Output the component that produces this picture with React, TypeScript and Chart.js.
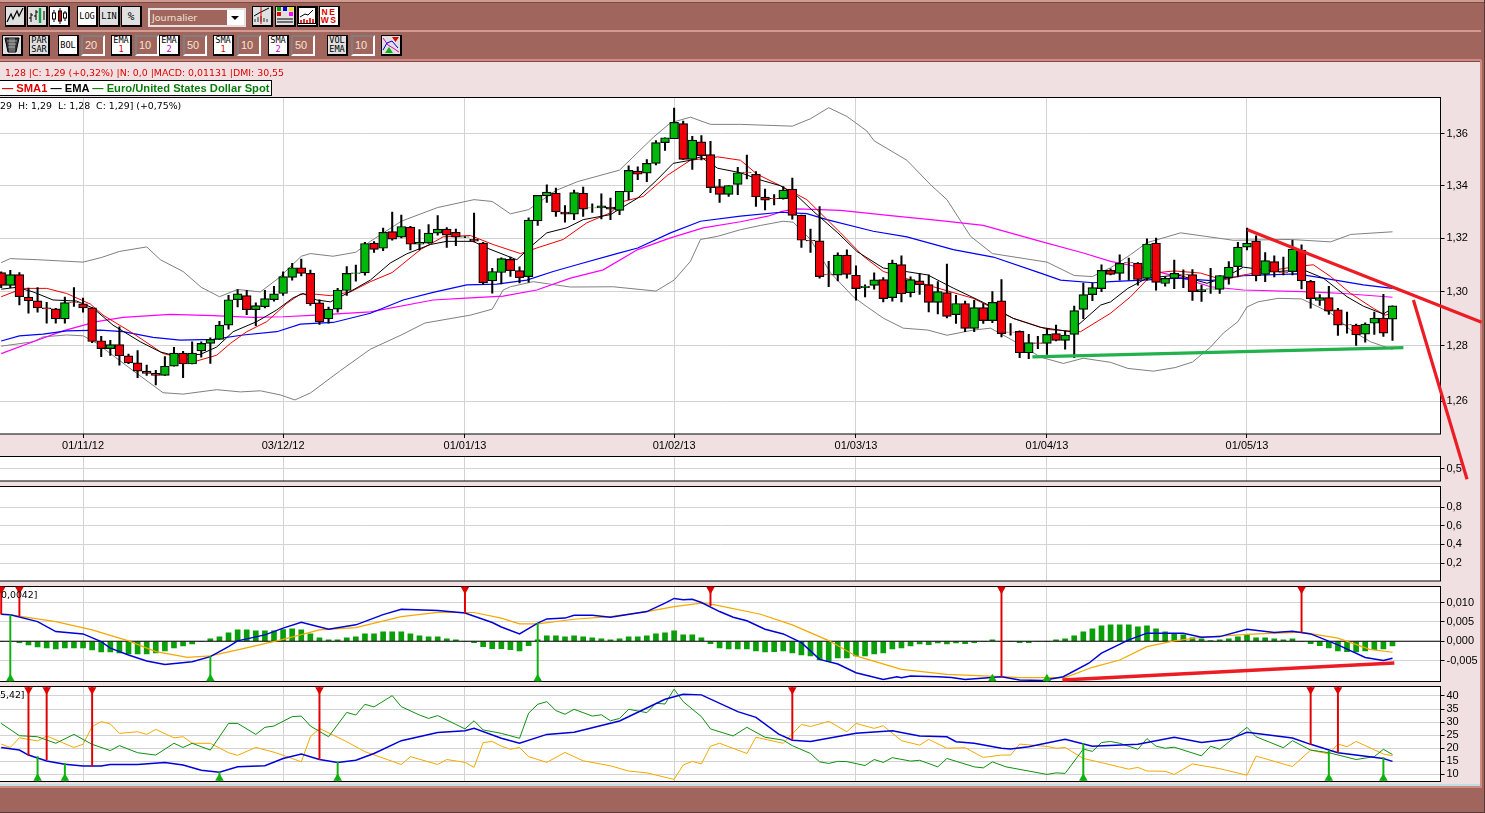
import React, { useEffect, useRef } from "react";
import { Chart, LineController, registerables } from "chart.js";

Chart.register(...registerables);
// The panels sit at exact positions on the page: points must not widen the layout padding.
(LineController.prototype as any).getMaxOverflow = () => 0;

// ---------- axes ----------
const xTickIndex = [9, 31, 51, 74, 94, 115, 137];
const xTickLabels = ["01/11/12", "03/12/12", "01/01/13", "01/02/13", "01/03/13", "01/04/13", "01/05/13"];
const priceTicks = [1.26, 1.28, 1.3, 1.32, 1.34, 1.36];
const volTicks = [0.5];
const oscTicks = [0.2, 0.4, 0.6, 0.8];
const macdTicks = [-0.005, 0, 0.005, 0.01];
const dmiTicks = [10, 15, 20, 25, 30, 35, 40];

// ---------- daily candles (EUR/USD) ----------
const opens = [1.3071,1.3023,1.3063,1.298,1.2966,1.294,1.2936,1.2899,1.2961,1.2955,1.294,1.2819,1.279,1.2805,1.2764,1.2738,1.2708,1.27,1.2693,1.2726,1.2774,1.2734,1.2782,1.2809,1.2824,1.2876,1.297,1.2985,1.2933,1.2944,1.297,1.2993,1.3053,1.3089,1.3068,1.2958,1.2899,1.2935,1.3004,1.3068,1.307,1.3181,1.3162,1.3225,1.3204,1.3242,1.3177,1.3181,1.3219,1.3234,1.3222,1.3204,1.3196,1.3181,1.304,1.3071,1.312,1.3078,1.3056,1.3265,1.336,1.3371,1.3299,1.3291,1.3371,1.3314,1.3314,1.3318,1.3305,1.3375,1.3455,1.3447,1.3485,1.3565,1.358,1.3639,1.35,1.3568,1.3519,1.3396,1.3366,1.3404,1.3451,1.3443,1.3356,1.3351,1.335,1.3386,1.3287,1.3192,1.319,1.3063,1.3061,1.3136,1.3061,1.3015,1.3023,1.3045,1.2978,1.3101,1.2996,1.304,1.3026,1.296,1.2996,1.2915,1.2956,1.2864,1.2941,1.2893,1.2966,1.2851,1.2853,1.2775,1.2811,1.2809,1.2845,1.282,1.2842,1.2934,1.2989,1.3011,1.3079,1.3068,1.3108,1.3106,1.3049,1.3181,1.303,1.3049,1.3063,1.3063,1.3,1.3009,1.3008,1.3052,1.3093,1.3166,1.3189,1.3064,1.3112,1.3072,1.3074,1.3155,1.3038,1.2967,1.2978,1.2933,1.2878,1.2876,1.2843,1.2883,1.2902,1.2898];
const closes = [1.3023,1.3063,1.2981,1.2966,1.294,1.2936,1.2899,1.2959,1.296,1.294,1.2816,1.279,1.2805,1.2764,1.2738,1.2708,1.27,1.2693,1.2726,1.2774,1.2734,1.2774,1.2809,1.2824,1.2876,1.297,1.2992,1.2933,1.2948,1.2974,1.2992,1.3056,1.3089,1.3068,1.2955,1.2888,1.2935,1.3006,1.3068,1.307,1.318,1.3158,1.3222,1.3196,1.3244,1.3177,1.3184,1.3219,1.3234,1.3211,1.3204,1.3205,1.3189,1.3033,1.3075,1.3123,1.3078,1.3052,1.3268,1.3362,1.3375,1.3299,1.3291,1.3373,1.331,1.3315,1.3322,1.331,1.3378,1.3458,1.3443,1.3485,1.3565,1.3584,1.3644,1.35,1.3575,1.3515,1.3392,1.3366,1.34,1.3449,1.345,1.3356,1.3344,1.335,1.3382,1.3286,1.3192,1.319,1.3056,1.3062,1.3136,1.3064,1.3011,1.302,1.3044,1.2974,1.3106,1.2992,1.3045,1.3026,1.296,1.3,1.2908,1.2956,1.2864,1.2941,1.2893,1.296,1.2845,1.285,1.2775,1.2812,1.2809,1.2842,1.282,1.284,1.293,1.2989,1.3015,1.3079,1.3064,1.3105,1.3107,1.3045,1.3178,1.3034,1.3049,1.3068,1.3062,1.3,1.3008,1.301,1.306,1.3091,1.3166,1.3181,1.3059,1.3116,1.3072,1.3071,1.3159,1.304,1.2974,1.2978,1.2928,1.2876,1.2877,1.284,1.288,1.2902,1.2847,1.2947];
const highs = [1.3074,1.3079,1.3071,1.3013,1.3015,1.296,1.2938,1.298,1.3015,1.2976,1.2942,1.2835,1.282,1.287,1.277,1.2783,1.273,1.2711,1.2761,1.2795,1.278,1.2815,1.2815,1.283,1.289,1.2986,1.3008,1.3005,1.2958,1.3005,1.302,1.3074,1.3105,1.3121,1.308,1.297,1.2943,1.3012,1.3093,1.3099,1.3184,1.3187,1.3238,1.3299,1.3287,1.3245,1.3232,1.3251,1.3285,1.324,1.3234,1.3206,1.3295,1.3184,1.3087,1.3126,1.3129,1.3092,1.3277,1.3362,1.3403,1.339,1.3323,1.3382,1.3394,1.333,1.3368,1.3352,1.3378,1.3475,1.3472,1.35,1.3573,1.3584,1.37,1.3649,1.3589,1.3592,1.357,1.3424,1.34,1.347,1.3517,1.3453,1.3386,1.3365,1.3396,1.3428,1.3287,1.3234,1.332,1.3113,1.3145,1.3156,1.3096,1.3025,1.307,1.3052,1.3118,1.3134,1.3055,1.3068,1.3062,1.3037,1.3103,1.2986,1.2965,1.2968,1.2956,1.3,1.3045,1.2882,1.2855,1.2842,1.2835,1.2864,1.2876,1.2853,1.2946,1.3032,1.3032,1.31,1.3085,1.3137,1.3125,1.3108,1.3197,1.32,1.3055,1.3118,1.3081,1.3082,1.3024,1.3087,1.306,1.3112,1.3184,1.3238,1.3209,1.3146,1.3134,1.3129,1.3192,1.3175,1.3042,1.2989,1.302,1.2938,1.2924,1.288,1.2885,1.2924,1.299,1.2947];
const lows = [1.3015,1.3015,1.2951,1.292,1.2924,1.2883,1.2883,1.2883,1.2945,1.2924,1.2812,1.2761,1.2765,1.273,1.2735,1.2684,1.2693,1.2658,1.2693,1.2726,1.2684,1.2734,1.2759,1.2736,1.2824,1.2861,1.2943,1.2915,1.2874,1.294,1.2965,1.2986,1.3043,1.3058,1.2949,1.2879,1.2883,1.2924,1.2986,1.3039,1.3061,1.3146,1.3153,1.3192,1.3201,1.3156,1.3156,1.318,1.3211,1.3165,1.3172,1.3202,1.3186,1.3027,1.2994,1.3029,1.3057,1.3032,1.3035,1.3248,1.3335,1.3282,1.326,1.327,1.3282,1.3297,1.3273,1.327,1.3289,1.3346,1.3422,1.3415,1.3479,1.3535,1.358,1.35,1.3462,1.3498,1.3373,1.3335,1.3358,1.3365,1.3425,1.332,1.3307,1.3326,1.3348,1.3272,1.3165,1.3146,1.305,1.3018,1.304,1.305,1.2968,1.298,1.3009,1.2962,1.2965,1.2962,1.298,1.299,1.2925,1.2917,1.2903,1.2882,1.2852,1.2852,1.2882,1.2885,1.2833,1.2839,1.2757,1.2753,1.279,1.2769,1.2818,1.2788,1.2757,1.29,1.2966,1.3,1.3062,1.3043,1.3043,1.3024,1.3043,1.3005,1.302,1.3011,1.3015,1.2967,1.2964,1.2993,1.2993,1.3028,1.3055,1.3156,1.304,1.3037,1.3055,1.3062,1.3062,1.301,1.2939,1.2949,1.2916,1.2838,1.2847,1.2802,1.2814,1.2842,1.2835,1.282];

// ---------- price overlays: [bar index, price] ----------
const bbUpper = [[0,1.3108],[1,1.3123],[4,1.3119],[9,1.311],[11,1.3127],[13,1.315],[16,1.3167],[17.5,1.3119],[20,1.3075],[22,1.3016],[24,1.2981],[26,1.3008],[28.5,1.2999],[30.5,1.305],[33,1.3132],[34,1.3142],[36.5,1.3132],[39,1.3147],[40.6,1.3188],[44,1.3264],[48,1.3316],[52,1.3346],[54,1.3339],[56,1.3292],[58,1.3308],[61,1.3381],[63.4,1.3415],[68,1.3459],[71.7,1.3585],[73.6,1.3642],[75.8,1.3664],[78,1.3636],[81.3,1.3636],[87,1.3629],[89,1.3658],[91,1.3701],[93,1.3667],[95.2,1.361],[96,1.3572],[99.6,1.3497],[102.2,1.3403],[104,1.3346],[106.6,1.3207],[109,1.3142],[115,1.311],[118,1.306],[120,1.3056],[122,1.3089],[124.2,1.3138],[126,1.3183],[129.7,1.322],[135.5,1.3192],[141.8,1.3195],[146.2,1.3186],[148.4,1.3214],[153,1.3224]];
const bbLower = [[0,1.2799],[3.5,1.2815],[4.6,1.2833],[7.2,1.284],[9,1.2837],[10.5,1.281],[14.5,1.271],[17.8,1.263],[20,1.2625],[23.7,1.2641],[26.3,1.2633],[28.5,1.2637],[30.7,1.2622],[32.3,1.2604],[34,1.2629],[37.3,1.271],[40.6,1.2788],[44,1.284],[46.6,1.2884],[51.6,1.2913],[54,1.2935],[55.2,1.3006],[56,1.3018],[58.5,1.3037],[62.6,1.3017],[67.3,1.3018],[72,1.3002],[74,1.3043],[75.8,1.3113],[76.9,1.3195],[78.8,1.3207],[81.3,1.3232],[83.5,1.3248],[86,1.3264],[87.1,1.326],[89,1.3195],[91.2,1.307],[93.7,1.2981],[95.2,1.2944],[97,1.2902],[99.2,1.2865],[101.9,1.2858],[104,1.2839],[106.9,1.2858],[108.8,1.2865],[111.8,1.281],[114.3,1.2759],[116.8,1.2736],[119,1.2755],[122,1.274],[123.9,1.2718],[126.7,1.2708],[129.1,1.2721],[131,1.2741],[133,1.2796],[134.4,1.2847],[136,1.2889],[137,1.2943],[138.2,1.2962],[140.4,1.2975],[143,1.2973],[144.8,1.2944],[146.2,1.2921],[148.4,1.2858],[150.6,1.2815],[153,1.2787]];
const ema50 = [[0,1.2818],[2,1.2837],[4.6,1.2843],[7.2,1.2855],[10.9,1.2858],[13.4,1.2852],[16.7,1.2831],[19.7,1.2821],[23.3,1.2824],[26.6,1.284],[30.3,1.2852],[32.9,1.288],[36.5,1.2886],[40.6,1.292],[44.2,1.2969],[47.5,1.2997],[51.2,1.3025],[54.5,1.3028],[57.8,1.3043],[60.7,1.3075],[63.7,1.3104],[67.7,1.3142],[70,1.3163],[73.6,1.322],[76.9,1.3264],[81.3,1.3283],[85.7,1.3298],[88.6,1.3293],[90.8,1.327],[95.9,1.3226],[99.6,1.3205],[104.7,1.3157],[109.1,1.3129],[114.3,1.3069],[116.5,1.3043],[120.1,1.3033],[122,1.3037],[125.6,1.3043],[129.4,1.305],[133,1.3041],[136.6,1.3059],[142.5,1.3066],[145.4,1.305],[149.8,1.3025],[153,1.3012]];
const sma50 = [[0,1.2772],[3.5,1.2815],[6.8,1.2855],[10.5,1.2889],[13.4,1.2905],[18.6,1.2916],[23.3,1.2911],[27.7,1.2905],[31,1.2907],[34.7,1.2913],[36.5,1.2917],[40.6,1.2925],[47.5,1.2969],[51.6,1.2977],[55.2,1.2983],[58.9,1.3006],[62.6,1.305],[66.2,1.3081],[70,1.3157],[73.6,1.3201],[77.2,1.3239],[81.3,1.3262],[84.3,1.3283],[86,1.3302],[87.6,1.3311],[92.3,1.3305],[97.8,1.3285],[103.3,1.3266],[108,1.3248],[114.3,1.3188],[119,1.3144],[122,1.3113],[123.9,1.31],[129.4,1.3056],[133,1.3018],[136.6,1.3006],[144,1.2999],[147.6,1.2993],[153,1.2979]];
const ema10 = [[0,1.3009],[1.7,1.3016],[3.5,1.2999],[5.7,1.2969],[8.3,1.2965],[10.1,1.2939],[12.3,1.2876],[15.3,1.2815],[17.5,1.2778],[18.9,1.2766],[21.9,1.2769],[23.7,1.2796],[25.5,1.2852],[28.1,1.2889],[30.3,1.2932],[32.1,1.2977],[33.2,1.2993],[34.7,1.2969],[36.2,1.2962],[38,1.2993],[40.6,1.3043],[42.8,1.3107],[44.6,1.3141],[47.2,1.3176],[49,1.3188],[51.9,1.3188],[53.4,1.3163],[56.7,1.3119],[58.5,1.3176],[60,1.322],[62.2,1.3239],[64,1.327],[67,1.3289],[70,1.3352],[72.1,1.3421],[73.9,1.3485],[75.8,1.3497],[76.9,1.351],[78.8,1.3466],[81.3,1.3449],[83.5,1.3421],[85.7,1.3399],[87.6,1.3358],[89.3,1.3302],[92,1.322],[94.1,1.315],[97,1.3088],[101.9,1.3062],[104.7,1.3013],[108,1.296],[111.3,1.2901],[114.3,1.2868],[117.6,1.2852],[120.9,1.295],[122,1.2962],[123.9,1.3012],[126,1.305],[129.4,1.3062],[132.6,1.3031],[134.4,1.305],[136.6,1.3091],[140.4,1.3075],[143.2,1.3081],[145.4,1.305],[148,1.2981],[149.8,1.2946],[152,1.2917],[153,1.2939]];
const sma10 = [[0,1.2981],[2.4,1.3012],[5,1.3012],[7.2,1.2993],[9.8,1.2954],[11.2,1.2913],[14.5,1.2846],[17.8,1.2772],[21.5,1.2745],[23.7,1.2766],[25.2,1.2809],[27,1.2852],[29.2,1.2889],[31.4,1.2956],[32.9,1.2991],[34.7,1.299],[36.2,1.2985],[38.4,1.2999],[40.6,1.3037],[43,1.3071],[46.1,1.3157],[48.6,1.3205],[51.6,1.321],[54.1,1.3176],[57.1,1.3142],[58.9,1.3163],[61.8,1.3195],[64.4,1.3258],[67,1.3296],[68.4,1.3339],[70.6,1.3358],[73.3,1.344],[75.8,1.3497],[78.8,1.351],[81.3,1.3497],[83.1,1.3444],[85.7,1.3399],[88.6,1.3346],[92.3,1.322],[94.8,1.3132],[97,1.3075],[102.5,1.3018],[106.9,1.2975],[111.3,1.2901],[115.1,1.286],[118.7,1.2852],[122,1.292],[124.2,1.2981],[126.7,1.3069],[129,1.3077],[131.9,1.3069],[134.4,1.3043],[136.6,1.3062],[142.5,1.3094],[144.3,1.31],[146.2,1.3056],[148.4,1.2993],[150.9,1.2938],[152.2,1.2913],[153,1.2921]];

// hand-drawn trend lines: [bar index, value]
const resistanceLine = [[137.05,1.3232],[162.8,1.2887]];
const breakoutLine = [[155.3,1.2969],[161.2,1.2322]];
const supportLine = [[113.4,1.276],[154.2,1.2794]];
const macdTrendLine = [[116.7,-0.01003],[153.2,-0.00562]];

// ---------- MACD (x 1000) ----------
const macdHist = [0,0,-.35,-.95,-1.47,-1.73,-1.99,-1.73,-1.73,-1.73,-2.25,-2.77,-2.77,-3.03,-3.29,-3.29,-3.29,-3.03,-2.51,-1.73,-1.21,-.7,0,.6,1.13,2.17,2.95,2.95,2.69,2.69,2.69,3.03,3.21,2.95,1.91,.87,.35,.35,.87,1.13,1.91,1.91,2.43,2.43,2.43,1.91,1.39,1.13,1.13,.6,.35,0,-.35,-1.39,-1.91,-1.91,-2.17,-2.51,-1.13,.35,1.39,1.39,1.13,1.39,1.13,.87,.6,.35,.6,1.13,1.13,1.39,1.91,2.17,2.69,1.65,1.65,.87,-.6,-1.73,-1.99,-1.99,-1.99,-2.51,-2.77,-2.69,-2.51,-3.03,-3.55,-3.81,-4.86,-5.2,-4.33,-4.33,-3.81,-3.81,-3.29,-3.03,-1.99,-1.73,-1.21,-.7,-.87,-.43,-.7,-.43,-.6,-.35,0,.35,0,0,-.35,-.35,0,0,.35,.6,1.39,2.43,3.21,3.99,4.25,4.25,4.25,3.73,3.99,3.21,2.43,1.91,1.65,.87,.6,.17,.35,.6,1.13,1.65,.87,.87,.6,.35,.6,0,-.6,-1.13,-1.73,-2.51,-2.69,-2.77,-2.51,-2.17,-1.99,-1.21];
const macdLine = [[0,7.02],[1,6.85],[4,5.1],[6,2.5],[9,1.9],[11,-.1],[12,-1.8],[14,-3.55],[16,-5.1],[18,-6],[21,-5.3],[23,-4],[25,-1.4],[26,.1],[29,1.65],[31,3.4],[33,4.9],[36,3.1],[39,4.25],[42,6.9],[44,8.3],[48,8],[51,7.3],[54,4.85],[55,3.7],[57,1.9],[59,4.7],[60,5.8],[62,6],[63,6.76],[65,6.76],[67,6.24],[71,7.7],[73,9.9],[74,11.1],[75,10.75],[76,10.9],[77,10.06],[79,7.7],[80.5,6.24],[82,5.3],[84,3.1],[86,1.9],[88,-.35],[90,-4.7],[92,-5.9],[94,-8.15],[97,-9.9],[98.5,-9.2],[99,-9.45],[100,-9],[103,-9.2],[104.5,-9.4],[106,-9.9],[110,-9.2],[112,-10.05],[114.5,-10.2],[116.8,-9.2],[119.6,-5.7],[121,-3.1],[124,.35],[126,2.1],[130,2.1],[132,1.04],[134,1.2],[137,3.1],[140,2.3],[142,2.6],[144,1.9],[147,-.95],[150,-4.2],[152,-5],[153,-4.4]];
const macdSignal = [[0,7],[1,6.85],[6,5.1],[10,2.95],[14,.1],[17,-2.7],[20.5,-4.2],[23,-3.8],[26,-2.25],[31,.5],[35,2.95],[39,3.55],[44,6.4],[48,7.5],[52,7.45],[55,6],[57,4.5],[59,4.5],[63,5.7],[67,6.4],[71,7.7],[74,9],[77,9.9],[78.5,9.45],[83.5,7],[87,4.25],[91,.17],[94,-3.8],[99,-7.3],[104,-8.6],[110,-9.2],[112,-9.45],[117,-9.45],[120,-6.76],[123,-4.86],[126,-1.4],[129,.1],[132,1.04],[137,1.8],[143,2.34],[147,.8],[150.5,-2.1],[153,-2.86]];
const macdSellIdx = [0, 2, 51, 78, 110, 143];
const macdSellAt = [7, 6.6, 7.3, 9.2, -9.2, 2.34];
const macdBuyIdx = [1, 23, 59, 109, 115];
const macdBuyAt = [6.85, -4, 4.7, -9.2, -9.4];

// ---------- DMI ----------
const adxLine = [[0,20.3],[2,19.3],[3,17.4],[5,15.1],[7,13.9],[9,13.2],[11,13.2],[12,13.8],[15,13.8],[18,14.6],[20,13.6],[22,11.6],[24,10.8],[26,12.9],[29,13.3],[31,16.1],[33,17.8],[35,15.7],[37,14.6],[39,15.4],[41,18],[44,22.9],[48,26],[51,26.7],[52,27.6],[55,23.8],[57,21.9],[60,25.3],[63,26.1],[68,30.4],[73,38.7],[75,40.6],[77,40.4],[81,34],[83,31.8],[85.5,25.4],[87,23.1],[89,22.6],[94,25.7],[98,26.7],[101,24.7],[104,24.4],[105,22.5],[107,21.9],[110,20],[111,19.7],[113,20.6],[117,23.4],[120,20.8],[125,21.5],[129,24.2],[132,22.2],[135,23.4],[137,26.1],[142,23.9],[144,21.5],[147,18.3],[152,16.1],[153,15]];
const plusDi = [[0,29.5],[2,24.8],[4,24.4],[6,21.9],[8,25.3],[10,21.5],[12,19.1],[13,21],[15,18.3],[17,17.4],[19,21.9],[20,20.3],[21,21.9],[23,19.3],[25,29.5],[26,29.5],[28,25.3],[29,28],[30,28.5],[32,32.1],[33,32.3],[34,28.5],[36,24.4],[38,33.7],[39,32.7],[40,36.8],[41,35.8],[43,40.1],[44,35.9],[46,32.7],[47,31.4],[48,32.5],[50,29.1],[51,27.4],[52,30.5],[53,27],[55,25.7],[57,23.8],[58,33.4],[59,36.8],[60,37.8],[61,34.4],[62,33],[63,34.9],[65,32.3],[66,32.8],[67,30.5],[68,31.4],[69,34.9],[71,33.6],[72,37.2],[73,36.9],[74,42.6],[75,37.8],[77,32.1],[78,27.4],[80.5,24.7],[82,28],[84,24.2],[86,23.1],[87,21],[89,18],[90,14.8],[91,14.2],[92,15],[93,14.9],[95,13.4],[96,15.7],[97,14.6],[98,16.4],[100,15.1],[101,15.4],[103,12.9],[104,16.1],[107,12.9],[108,12.5],[109,14.8],[110.5,12.9],[115,10],[116,10.6],[117,10.4],[119,19.7],[120,18.8],[121,22.2],[122,22.6],[123,21.9],[125,19.6],[126,23.7],[127,20.8],[128,20],[129,20.4],[132,17.1],[133,20.8],[134,19.6],[137,28],[138,24.4],[141,20.2],[142,22.9],[144,19.3],[146,18.3],[149,15.7],[151,16.8],[152,19.6],[153,17.6]];
const minusDi = [[0,21.6],[1,20.3],[2,24],[4,22.8],[5,24.7],[8,20.3],[9,21.5],[10,28.3],[11,30.2],[12,29.3],[13,25.7],[15,26.3],[16,25.3],[17,27.2],[19,24],[20,24.4],[21,21.9],[23,21.9],[25,18.3],[26,17.3],[28,20.3],[30,18.5],[32,16.1],[33,14.8],[34,24.4],[35,27.6],[38,22.5],[40,18.7],[44,13.8],[45,16.8],[48,13.8],[49,15.7],[51,14.6],[52,12.7],[53,22.2],[54,22.6],[55,20.8],[56,19.6],[57,20.3],[58,16.8],[60,14.6],[62,18.4],[64,15.2],[67,13.3],[69,11.3],[71,10.6],[74,8.1],[75,13.6],[76,15],[77,14],[78,20.8],[79,21.9],[82,18],[83,24.2],[86,21.9],[88,29.1],[89,28.3],[91,30.3],[93,26.3],[94,29.5],[96,27.6],[97,28.6],[99,22.9],[101,21.2],[102,23.4],[104,20],[106,20.2],[108,16.5],[110,17.4],[111,17.4],[112,21.6],[115,20.7],[116,20],[117,20.3],[119,16.1],[121,14.5],[124,12],[125,12.7],[126,11.3],[128,11.2],[129,10],[131,14],[134,12.2],[137,9.7],[138,17],[142,13],[144,19.3],[146,17.8],[147,21.6],[148,20.6],[149,22.6],[152,17.8],[153,17.1]];
const dmiSellIdx = [3, 5, 10, 35, 87, 144, 147];
const dmiSellAt = [17.4, 15.5, 13.2, 15.7, 23.4, 21.5, 18.4];
const dmiBuyIdx = [4, 7, 24, 37, 119, 146, 152];
const dmiBuyAt = [16.8, 14.2, 11, 14.8, 21.9, 19, 16.4];

// ---------- colours ----------
const BROWN = "#a0665e";
const PINK = "#f0e0e1";
const GRID = "#d3d3d3";
const X_MIN = -0.132;
const X_MAX = 158.28;
const AXIS_FONT = { family: "'Liberation Sans', Arial, sans-serif", size: 11 };
const comma = (v: number, d: number) => v.toFixed(d).replace(".", ",");

const pts = (a: number[][], k = 1) => a.map(([x, y]) => ({ x, y: y * k }));

const framePlugin = {
  id: "panelFrame",
  beforeDraw(c: any) {
    const { ctx, chartArea: a } = c;
    ctx.save();
    ctx.fillStyle = "#fff";
    ctx.fillRect(a.left, a.top, a.right - a.left, a.bottom - a.top);
    ctx.restore();
  },
  beforeDatasetsDraw(c: any) {
    const { ctx, chartArea: a } = c;
    ctx.save();
    ctx.strokeStyle = "#000";
    ctx.lineWidth = 1;
    ctx.strokeRect(a.left - 2, a.top, a.right - a.left + 2, a.bottom - a.top);
    ctx.restore();
  },
};

function line(data: any[], color: string, width: number, order = 5, clip: any = undefined) {
  return {
    type: "line",
    data,
    borderColor: color,
    borderWidth: width,
    pointRadius: 0,
    tension: 0,
    order,
    ...(clip === undefined ? {} : { clip }),
  };
}

function stems(idx: number[], from: number[], to: number, color: string) {
  return {
    type: "bar",
    grouped: false,
    barThickness: 1.3,
    backgroundColor: color,
    borderWidth: 0,
    order: 1,
    data: idx.map((x, i) => ({ x, y: [from[i], to] })),
  };
}

function arrows(idx: number[], y: number, color: string, rotation: number) {
  return {
    type: "line",
    showLine: false,
    pointStyle: "triangle",
    pointRotation: rotation,
    pointRadius: 5,
    backgroundColor: color,
    pointBackgroundColor: color,
    pointBorderWidth: 0,
    order: 0,
    clip: false,
    data: idx.map((x) => ({ x, y })),
  };
}

function panel(
  canvas: HTMLCanvasElement,
  cfg: {
    top: number;
    bottom: number;
    yType?: string;
    min: number;
    max: number;
    ticks: number[];
    fmt: (v: number) => string;
    datasets: any[];
    dates?: boolean;
  }
) {
  const xH = cfg.dates ? 22 : 0;
  return new Chart(canvas, {
    type: "bar",
    data: { datasets: cfg.datasets },
    plugins: [framePlugin],
    options: {
      responsive: false,
      animation: false,
      events: [],
      layout: { padding: { left: 0, right: 0, top: cfg.top, bottom: 813 - cfg.bottom - xH } },
      plugins: { legend: { display: false }, tooltip: { enabled: false } },
      scales: {
        x: {
          type: "linear",
          offset: false,
          bounds: "data",
          min: X_MIN,
          max: X_MAX,
          border: { display: false },
          grid: {
            offset: false,
            color: GRID,
            lineWidth: 1,
            drawTicks: !!cfg.dates,
            tickLength: 4,
            tickColor: "#000",
          },
          ticks: {
            display: !!cfg.dates,
            autoSkip: false,
            maxRotation: 0,
            minRotation: 0,
            padding: 1,
            color: "#000",
            font: AXIS_FONT,
            callback: (v: number) => xTickLabels[xTickIndex.indexOf(v)] ?? "",
          },
          afterBuildTicks(s: any) {
            s.ticks = xTickIndex.map((value) => ({ value }));
          },
          afterFit(s: any) {
            s.height = xH;
            s.paddingLeft = 0;
            s.paddingRight = 0;
          },
        },
        y: {
          type: cfg.yType ?? "linear",
          position: "right",
          bounds: "data",
          min: cfg.min,
          max: cfg.max,
          border: { display: false },
          grid: { color: GRID, lineWidth: 1, tickLength: 4, tickColor: "#000" },
          ticks: {
            crossAlign: "near",
            padding: 2,
            autoSkip: false,
            color: "#000",
            font: AXIS_FONT,
            callback: (v: number) => cfg.fmt(v),
          },
          afterBuildTicks(s: any) {
            s.ticks = cfg.ticks.map((value) => ({ value }));
          },
          afterFit(s: any) {
            s.width = 44.5;
            s.paddingTop = 0;
            s.paddingBottom = 0;
          },
        },
      },
    } as any,
  } as any);
}

// ---------- toolbar pieces ----------
const UI = "'Liberation Sans', Arial, sans-serif";
const MONO = "'DejaVu Sans Mono', monospace";
const box = (x: number, y: number, w: number, h: number): React.CSSProperties => ({
  position: "absolute",
  left: x,
  top: y,
  width: w,
  height: h,
  boxSizing: "border-box",
});

function Btn(p: { x: number; y?: number; w?: number; bg?: string; children?: React.ReactNode; h?: number }) {
  const y = p.y ?? 35;
  return (
    <div
      style={{
        ...box(p.x, y, p.w ?? 21, p.h ?? 21),
        background: p.bg ?? "#fff",
        border: "1px solid #000",
        borderRight: "2px solid #000",
        borderBottom: "2px solid #000",
        display: "flex",
        flexDirection: "column",
        alignItems: "center",
        justifyContent: "center",
        font: `8.6px/9px ${MONO}`,
        color: "#000",
        textAlign: "center",
        overflow: "hidden",
      }}
    >
      {p.children}
    </div>
  );
}

function Field(p: { x: number; w?: number; children: React.ReactNode }) {
  return (
    <div
      style={{
        ...box(p.x, 35, p.w ?? 24, 21),
        background: BROWN,
        borderTop: "2px solid #7f7f7f",
        borderLeft: "2px solid #7f7f7f",
        borderRight: "2px solid #fff",
        borderBottom: "2px solid #fff",
        color: "#f2e3d8",
        font: `11px/17px ${UI}`,
        paddingLeft: 2,
      }}
    >
      {p.children}
    </div>
  );
}

const Icon = (p: { children: React.ReactNode }) => (
  <svg width="18" height="18" viewBox="0 0 18 18" style={{ display: "block" }}>
    {p.children}
  </svg>
);

function Two(p: { a: string; b: string; color: string }) {
  return (
    <>
      <span>{p.a}</span>
      <span style={{ color: p.color }}>{p.b}</span>
    </>
  );
}

export default function App() {
  const priceRef = useRef<HTMLCanvasElement>(null);
  const volRef = useRef<HTMLCanvasElement>(null);
  const oscRef = useRef<HTMLCanvasElement>(null);
  const macdRef = useRef<HTMLCanvasElement>(null);
  const dmiRef = useRef<HTMLCanvasElement>(null);

  useEffect(() => {
    document.body.style.margin = "0";
    document.body.style.overflow = "hidden";
    const idx = opens.map((_, i) => i);
    const bodyColor = idx.map((i) => (closes[i] >= opens[i] ? "#00b80c" : "#f00008"));

    const charts = [
      panel(volRef.current!, {
        top: 456.5,
        bottom: 481,
        min: 0,
        max: 1,
        ticks: volTicks,
        fmt: (v) => comma(v, 1),
        datasets: [],
      }),
      panel(oscRef.current!, {
        top: 486.5,
        bottom: 581,
        min: 0.0075,
        max: 1.02,
        ticks: oscTicks,
        fmt: (v) => comma(v, 1),
        datasets: [],
      }),
      panel(macdRef.current!, {
        top: 586.5,
        bottom: 681.5,
        min: -0.01044,
        max: 0.0142,
        ticks: macdTicks,
        fmt: (v) => comma(v, 3),
        datasets: [
          line(pts(macdTrendLine), "#ed1c24", 3.5, 0, false),
          stems(macdSellIdx, macdSellAt.map((v) => v / 1000), 0.0142, "#e00000"),
          stems(macdBuyIdx, macdBuyAt.map((v) => v / 1000), -0.01044, "#10b010"),
          arrows(macdSellIdx, 0.0135, "#e00000", 180),
          arrows(macdBuyIdx, -0.0097, "#10b010", 0),
          line(pts(macdLine, 0.001), "#0000d8", 1.5, 2),
          line(pts(macdSignal, 0.001), "#f4a800", 1.2, 3),
          {
            type: "line",
            data: [{ x: X_MIN, y: 0 }, { x: X_MAX, y: 0 }],
            borderColor: "#000",
            borderWidth: 1,
            pointRadius: 0,
            order: 4,
          },
          {
            type: "bar",
            grouped: false,
            barThickness: 5,
            backgroundColor: "#0a9e0a",
            borderWidth: 0,
            order: 5,
            data: macdHist.map((v, x) => ({ x, y: [0, v / 1000] })),
          },
        ],
      }),
      panel(dmiRef.current!, {
        top: 686.5,
        bottom: 781.5,
        min: 7.3,
        max: 43.6,
        ticks: dmiTicks,
        fmt: (v) => String(v),
        datasets: [
          stems(dmiSellIdx, dmiSellAt, 43.6, "#e00000"),
          stems(dmiBuyIdx, dmiBuyAt, 7.3, "#10b010"),
          arrows(dmiSellIdx, 42.4, "#e00000", 180),
          arrows(dmiBuyIdx, 8.5, "#10b010", 0),
          line(pts(adxLine), "#0000d8", 1.5, 2),
          line(pts(plusDi), "#109010", 1, 3),
          line(pts(minusDi), "#f4a800", 1, 4),
        ],
      }),
      panel(priceRef.current!, {
        top: 97.5,
        bottom: 434,
        yType: "logarithmic",
        min: 1.2482,
        max: 1.3741,
        ticks: priceTicks,
        fmt: (v) => comma(v, 2),
        dates: true,
        datasets: [
          line(pts(resistanceLine), "#ed1c24", 3.2, 0, false),
          line(pts(breakoutLine), "#ed1c24", 3.2, 0, false),
          line(pts(supportLine), "#22b14c", 3.2, 0, false),
          {
            type: "bar",
            grouped: false,
            barThickness: 8.8,
            backgroundColor: bodyColor,
            borderColor: "#000",
            borderWidth: 1.2,
            borderSkipped: false,
            order: 1,
            data: idx.map((i) => ({ x: i, y: [opens[i], closes[i]] })),
          },
          {
            type: "bar",
            grouped: false,
            barThickness: 1.4,
            backgroundColor: "#000",
            borderWidth: 0,
            order: 2,
            data: idx.map((i) => ({ x: i, y: [lows[i], highs[i]] })),
          },
          line(pts(ema10), "#000", 1, 3),
          line(pts(sma10), "#f00000", 1, 3),
          line(pts(ema50), "#0000ff", 1.2, 4),
          line(pts(sma50), "#ff00ff", 1.2, 4),
          line(pts(bbUpper), "#808080", 1, 5),
          line(pts(bbLower), "#808080", 1, 5),
        ],
      }),
    ];
    return () => charts.forEach((c) => c.destroy());
  }, []);

  const canvas: React.CSSProperties = { position: "absolute", left: 0, top: 0 };
  const grey = "#e0e0e0";
  const small = `9.4px/13px 'DejaVu Sans', sans-serif`;

  return (
    <div style={{ position: "relative", width: 1485, height: 813, background: BROWN, overflow: "hidden" }}>
      {/* window chrome */}
      <div style={{ ...box(0, 0, 1485, 3), background: "#d09a92", borderBottom: "1px solid #7e4a44" }} />
      <div style={{ ...box(0, 30, 1481, 2), background: "#d49a92" }} />
      <div style={{ ...box(0, 59, 1481, 3), background: "#d08a82", borderBottom: "1px solid #7e4a44" }} />
      <div style={{ ...box(0, 62, 1480, 722), background: PINK }} />
      <div style={{ ...box(1480, 60, 2, 727), background: "#d08a82" }} />
      <div style={{ ...box(1484, 0, 1, 813), background: "#5a3a36" }} />
      <div style={{ ...box(0, 784, 1480, 2), background: "#bfe0e0" }} />
      <div style={{ ...box(0, 786, 1482, 2), background: "#d08a82" }} />
      <div style={{ ...box(0, 812, 1485, 1), background: "#5a3a36" }} />

      {/* toolbar row 1 */}
      <Btn x={5} y={6} bg={grey}>
        <Icon><polyline points="1,15 5,7 7,12 11,4 13,9 17,1" fill="none" stroke="#000" strokeWidth="1.2" /></Icon>
      </Btn>
      <Btn x={27} y={6} bg={grey}>
        <Icon>
          <path d="M3,6V15M1,11H3M3,8H5M8,3V13M6,9H8M8,5H10" stroke="#000" fill="none" />
          <path d="M12,1V16" stroke="#0a9e3a" strokeWidth="2.4" />
          <path d="M16,4V13" stroke="#000" />
        </Icon>
      </Btn>
      <Btn x={49} y={6}>
        <Icon>
          <path d="M4,3V15M10,1V17M15,4V14" stroke="#000" />
          <rect x="2.5" y="6" width="3" height="6" fill="#fff" stroke="#000" />
          <rect x="8.5" y="4" width="3" height="10" fill="#e00000" stroke="#000" />
          <rect x="13.5" y="6" width="3" height="5" fill="#fff" stroke="#000" />
        </Icon>
      </Btn>
      <Btn x={77} y={6}>LOG</Btn>
      <Btn x={99} y={6} bg={grey}>LIN</Btn>
      <Btn x={121} y={6} bg={grey}><span style={{ fontSize: 11 }}>%</span></Btn>
      <div
        style={{
          ...box(148, 8, 98, 19),
          background: BROWN,
          border: "2px solid #e8e0e0",
          color: "#f2e3d8",
          font: `9.5px/15px 'DejaVu Sans', sans-serif`,
          paddingLeft: 2,
        }}
      >
        Journalier
      </div>
      <div style={{ ...box(227, 10, 17, 15), background: "#fff" }}>
        <svg width="17" height="15"><polygon points="4,6 12,6 8,10" fill="#000" /></svg>
      </div>
      <Btn x={252} y={6} bg={grey}>
        <Icon>
          <polyline points="1,9 6,6 12,3 16,1" fill="none" stroke="#000" />
          <path d="M2,15V12M5,15V10M8,15V9M11,15V11M14,15V12" stroke="#888" strokeWidth="2" />
          <path d="M8,0V17" stroke="#e00000" />
        </Icon>
      </Btn>
      <Btn x={275} y={6} bg={grey}>
        <Icon>
          <rect x="1" y="0" width="4" height="4" fill="#0a9e0a" />
          <rect x="7" y="0" width="4" height="4" fill="#0000e0" />
          <rect x="13" y="0" width="4" height="4" fill="#ffe000" />
          <rect x="1" y="5" width="4" height="4" fill="#e00000" />
          <rect x="13" y="5" width="4" height="4" fill="#ff00ff" />
          <path d="M1,12H17M1,15H17" stroke="#000" strokeWidth="1.2" />
        </Icon>
      </Btn>
      <Btn x={297} y={6}>
        <Icon>
          <rect x="0.5" y="0.5" width="17" height="16" fill="none" stroke="#000" />
          <polyline points="2,10 7,7 10,8 15,3" fill="none" stroke="#000" />
          <path d="M3,16V13M6,16V12M9,16V13M12,16V11M15,16V12" stroke="#e00000" strokeWidth="1.6" />
        </Icon>
      </Btn>
      <Btn x={319} y={6}>
        <div style={{ color: "#e00000", font: `bold 8.5px/8.5px ${UI}`, letterSpacing: 1.5 }}>
          NE<br />WS
        </div>
      </Btn>

      {/* toolbar row 2 */}
      <Btn x={2} bg={grey}>
        <Icon>
          <polygon points="2,2 16,2 13,16 5,16" fill="#333" stroke="#000" />
          <path d="M4,5H14M5,8H13M5,11H12M7,2V16M9,2V16M11,2V16" stroke="#ccc" strokeWidth="0.7" />
        </Icon>
      </Btn>
      <Btn x={29} bg={grey}><span>PAR</span><span>SAR</span></Btn>
      <Btn x={58}>BOL</Btn>
      <Field x={81}>20</Field>
      <Btn x={111}><Two a="EMA" b="1" color="#e00000" /></Btn>
      <Field x={135}>10</Field>
      <Btn x={159}><Two a="EMA" b="2" color="#c000c0" /></Btn>
      <Field x={183}>50</Field>
      <Btn x={213}><Two a="SMA" b="1" color="#e00000" /></Btn>
      <Field x={237}>10</Field>
      <Btn x={268}><Two a="SMA" b="2" color="#c000c0" /></Btn>
      <Field x={291}>50</Field>
      <Btn x={327} bg={grey}><span>VOL</span><span>EMA</span></Btn>
      <Field x={351}>10</Field>
      <Btn x={381} bg={grey}>
        <Icon>
          <polyline points="1,2 6,9 11,12 17,16" fill="none" stroke="#e000c0" />
          <polyline points="1,14 5,7 10,5 16,12" fill="none" stroke="#0000e0" />
          <polygon points="10,1 17,1 13.5,6" fill="#e00000" />
          <polygon points="3,17 11,17 7,11" fill="#10b010" />
        </Icon>
      </Btn>

      {/* charts */}
      <canvas ref={volRef} width={1485} height={813} style={canvas} />
      <canvas ref={oscRef} width={1485} height={813} style={canvas} />
      <canvas ref={macdRef} width={1485} height={813} style={canvas} />
      <canvas ref={dmiRef} width={1485} height={813} style={canvas} />
      <canvas ref={priceRef} width={1485} height={813} style={canvas} />

      {/* info lines */}
      <div style={{ position: "absolute", left: 5, top: 66, color: "#e00000", font: small, whiteSpace: "pre" }}>
        1,28 |C: 1,29 (+0,32%) |N: 0,0 |MACD: 0,01131 |DMI: 30,55
      </div>
      <div
        style={{
          ...box(0, 80, 272, 16),
          background: "#fff",
          border: "1px solid #000",
          borderLeft: "none",
          font: `bold 11.2px/14px ${UI}`,
          whiteSpace: "pre",
          paddingLeft: 2,
        }}
      >
        <span style={{ color: "#e00000" }}>— SMA1 </span>
        <span style={{ color: "#000" }}>— EMA </span>
        <span style={{ color: "#0a7a0a" }}>— Euro/United States Dollar Spot</span>
      </div>
      <div style={{ position: "absolute", left: 0, top: 99, color: "#000", font: small, whiteSpace: "pre" }}>
        29  H: 1,29  L: 1,28  C: 1,29] (+0,75%)
      </div>
      <div style={{ position: "absolute", left: 1, top: 588, color: "#000", font: small }}>
        0,0042]
      </div>
      <div style={{ position: "absolute", left: 0, top: 688, color: "#000", font: small }}>
        5,42]
      </div>
    </div>
  );
}
